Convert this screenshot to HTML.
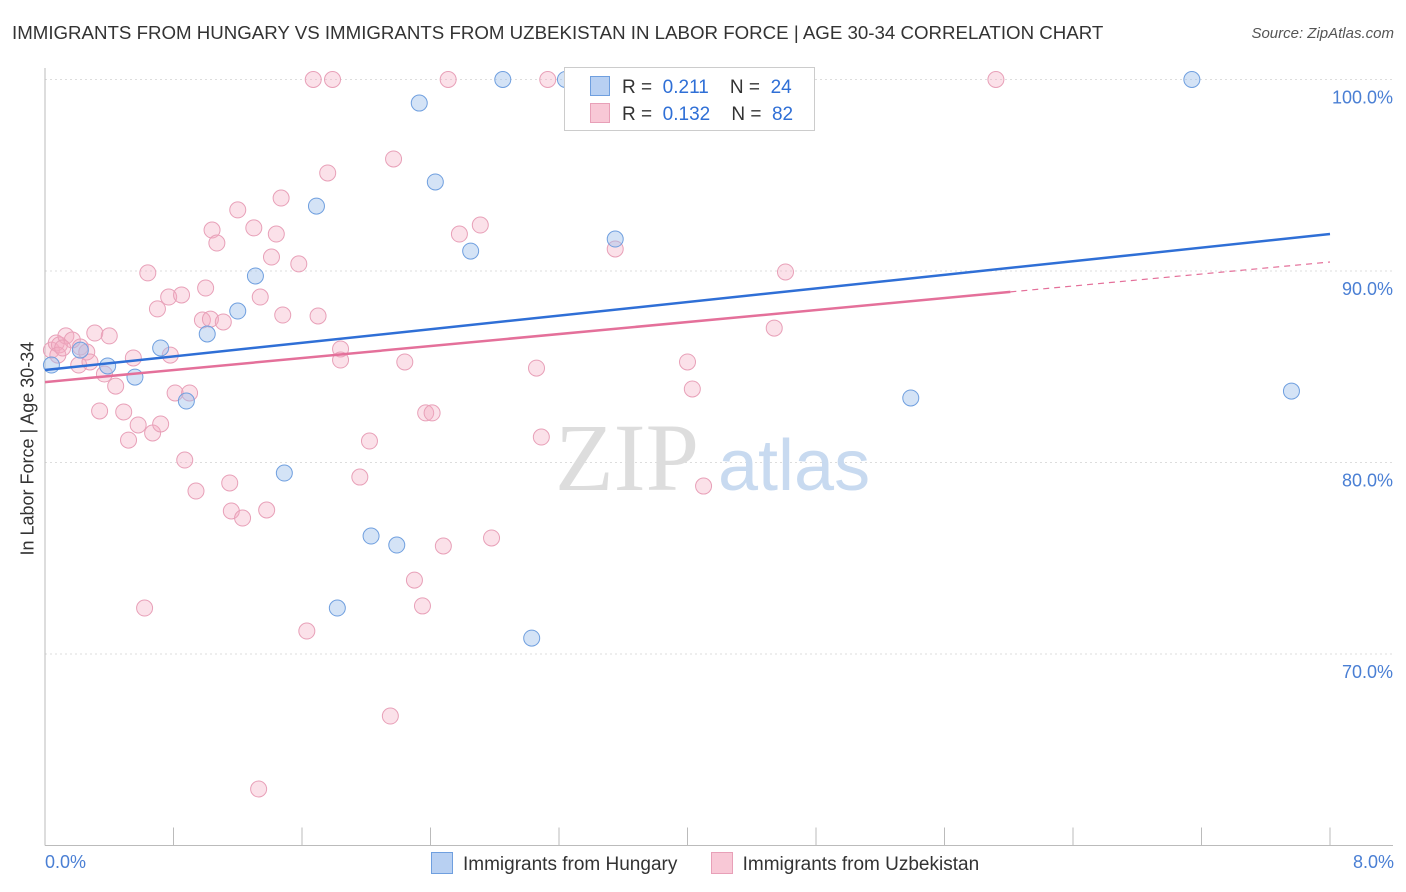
<!DOCTYPE html>
<html><head><meta charset="utf-8"><style>
body{margin:0;background:#fff;font-family:"Liberation Sans",sans-serif;}
#wrap{position:relative;width:1406px;height:892px;overflow:hidden;}
.t{position:absolute;white-space:nowrap;}
</style></head><body>
<div id="wrap">
<div class="t" style="left:12px;top:22px;font-size:18.7px;color:#333;">IMMIGRANTS FROM HUNGARY VS IMMIGRANTS FROM UZBEKISTAN IN LABOR FORCE | AGE 30-34 CORRELATION CHART</div>
<div class="t" style="right:12px;top:25px;font-size:15px;color:#555;font-style:italic;">Source: ZipAtlas.com</div>
<svg id="svg" width="1406" height="892" style="position:absolute;left:0;top:0"></svg>
</div>
<script>
const blueX=[0.04,0.22,0.39,0.56,0.72,0.88,1.01,1.20,1.31,1.49,1.69,1.82,2.03,2.19,2.33,2.43,2.65,2.85,3.03,3.24,3.55,5.39,7.14,7.76];
const blueY=[85.09,85.87,85.04,84.46,85.98,83.21,86.71,87.91,89.74,79.45,93.39,72.40,76.16,75.69,98.77,94.65,91.04,100,70.83,100,91.67,83.37,100,83.73];
const pinkX=[0.04,0.07,0.09,0.13,0.17,0.21,0.22,0.26,0.31,0.34,0.37,0.40,0.44,0.49,0.52,0.55,0.58,0.62,0.64,0.67,0.70,0.72,0.77,0.78,0.81,0.85,0.87,0.90,0.94,0.98,1.00,1.03,1.04,1.07,1.11,1.15,1.16,1.20,1.23,1.30,1.33,1.34,1.38,1.41,1.44,1.47,1.48,1.58,1.63,1.67,1.70,1.76,1.79,1.84,1.84,1.96,2.02,2.15,2.17,2.24,2.30,2.35,2.37,2.41,2.48,2.51,2.58,2.71,2.78,3.06,3.09,3.13,3.55,4.00,4.03,4.10,4.54,4.61,5.92,0.08,0.11,0.28];
const pinkY=[85.87,86.24,86.14,86.61,86.40,85.09,86.03,85.77,86.76,82.69,84.62,86.61,83.99,82.64,81.17,85.46,81.96,72.40,89.90,81.54,88.02,82.01,88.64,85.61,83.63,88.75,80.13,83.63,78.51,87.44,89.11,87.49,92.14,91.46,87.34,78.93,77.47,93.19,77.10,92.25,62.95,88.64,77.52,90.73,91.93,93.81,87.70,90.37,71.20,100,87.65,95.12,100,85.93,85.35,79.24,81.12,66.76,95.85,85.25,73.86,72.51,82.59,82.59,75.64,100,91.93,92.40,76.06,84.93,81.33,100,91.15,85.25,83.84,78.77,87.02,89.95,100,85.61,85.98,85.25];
const blueTrend=[84.83,91.93];
const pinkTrend=[84.20,90.47];
const pinkSolidEnd=6.01;
const yTicks=[70,80,90,100];
const yTickLabels=["70.0%","80.0%","90.0%","100.0%"];

const NS="http://www.w3.org/2000/svg";
const svg=document.getElementById('svg');
const X0=45,X1=1330,Y0=79.5,Y1=845.5;
const xs=v=>X0+(v/8)*(X1-X0);
const ys=v=>Y0+(100-v)/40*(Y1-Y0);
function mk(tag,at){const e=document.createElementNS(NS,tag);for(const k in at)e.setAttribute(k,at[k]);svg.appendChild(e);return e;}
yTicks.forEach((v,i)=>{
 const g=mk('line',{x1:X0,x2:1393,y1:ys(v),y2:ys(v),stroke:'#ddd','stroke-dasharray':'2,3'});
 
 
 const t=mk('text',{x:1393,y:ys(v)+24,'text-anchor':'end','font-size':18,fill:'#4a7fd4','font-family':'Liberation Sans, sans-serif'});
 t.textContent=yTickLabels[i];
 
 
});
const ax=mk('line',{x1:X0,x2:1393,y1:Y1,y2:Y1,stroke:'#bbb'});


const ay=mk('line',{x1:X0,x2:X0,y1:68,y2:Y1,stroke:'#bbb'});


for(let i=0;i<=10;i++){const x=X0+i*(X1-X0)/10;const tk=mk('line',{x1:x,x2:x,y1:Y1,y2:Y1-18,stroke:'#bbb'});
 
 }
const wm=mk('text',{x:555,y:490,'font-size':96,fill:'#ddd','font-family':'Liberation Serif, serif'});wm.textContent='ZIP';


const wm2=mk('text',{x:718,y:490,'font-size':72,fill:'#c8daf0','font-family':'Liberation Sans, sans-serif'});wm2.textContent='atlas';


pinkX.forEach((x,i)=>{const c=mk('circle',{cx:xs(x),cy:ys(pinkY[i]),r:8,fill:'rgba(244,170,192,0.35)',stroke:'#e8a0b8','stroke-width':1});
 
 });
blueX.forEach((x,i)=>{const c=mk('circle',{cx:xs(x),cy:ys(blueY[i]),r:8,fill:'rgba(160,192,236,0.45)',stroke:'#6f9fdf','stroke-width':1});
 
 });
const bl=mk('line',{x1:xs(0),y1:ys(blueTrend[0]),x2:xs(8),y2:ys(blueTrend[1]),stroke:'#2f6fd6','stroke-width':2.5});


const pAt=v=>pinkTrend[0]+(pinkTrend[1]-pinkTrend[0])*v/8;
const pl=mk('line',{x1:xs(0),y1:ys(pinkTrend[0]),x2:xs(pinkSolidEnd),y2:ys(pAt(pinkSolidEnd)),stroke:'#e4709a','stroke-width':2.5});


const pd=mk('line',{x1:xs(pinkSolidEnd),y1:ys(pAt(pinkSolidEnd)),x2:xs(8),y2:ys(pinkTrend[1]),stroke:'#e4709a','stroke-width':1.2,'stroke-dasharray':'6,5'});


</script>
<div class="t" style="left:-72px;top:445px;transform:rotate(-90deg);font-size:18px;color:#333;width:200px;text-align:center;">In Labor Force | Age 30-34</div>
<div class="t" style="left:45px;top:852px;font-size:18px;color:#4a7fd4;">0.0%</div>
<div class="t" style="right:12px;top:852px;font-size:18px;color:#4a7fd4;">8.0%</div>
<div style="position:absolute;left:564px;top:67px;width:249px;height:62px;border:1px solid #ccc;background:#fff;font-size:19px;color:#333;">
 <div style="position:absolute;left:25px;top:8px;white-space:nowrap;"><span style="display:inline-block;width:18px;height:18px;background:#b8d0f2;border:1px solid #6f9fdf;vertical-align:-3px;margin-right:12px;"></span>R = &nbsp;<span style="color:#2f6fd6">0.211</span>&nbsp;&nbsp;&nbsp; N = &nbsp;<span style="color:#2f6fd6">24</span></div>
 <div style="position:absolute;left:25px;top:35px;white-space:nowrap;"><span style="display:inline-block;width:18px;height:18px;background:#f8c8d6;border:1px solid #e8a0b8;vertical-align:-3px;margin-right:12px;"></span>R = &nbsp;<span style="color:#2f6fd6">0.132</span>&nbsp;&nbsp;&nbsp; N = &nbsp;<span style="color:#2f6fd6">82</span></div>
</div>
<div style="position:absolute;left:431px;top:852px;font-size:19px;color:#333;white-space:nowrap;">
 <span><span style="display:inline-block;width:20px;height:20px;background:#b8d0f2;border:1px solid #6f9fdf;vertical-align:-4px;margin-right:10px;"></span>Immigrants from Hungary</span>
 <span style="margin-left:28px;"><span style="display:inline-block;width:20px;height:20px;background:#f8c8d6;border:1px solid #e8a0b8;vertical-align:-4px;margin-right:10px;"></span>Immigrants from Uzbekistan</span>
</div>
</body></html>
